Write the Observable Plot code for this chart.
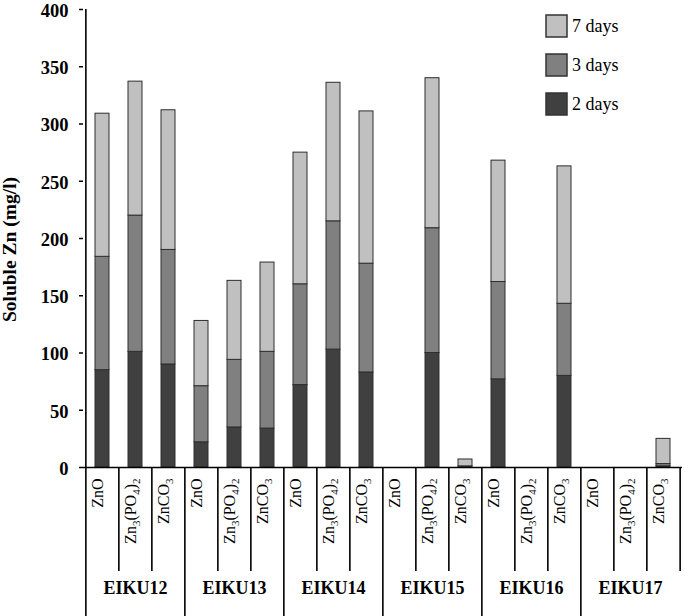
<!DOCTYPE html>
<html><head><meta charset="utf-8">
<script src="https://cdn.jsdelivr.net/npm/d3@7"></script>
<script src="https://cdn.jsdelivr.net/npm/@observablehq/plot@0.6"></script>
<style>
body{margin:0;background:#fff;}
#chart{position:relative;width:685px;height:616px;font-family:"Liberation Serif","Times New Roman",serif;}
#chart svg, #chart svg text{font-family:"Liberation Serif","Times New Roman",serif !important;}
#legend{position:absolute;left:546px;top:15px;}
#legend .lg-swatches{font-family:"Liberation Serif","Times New Roman",serif;font-size:18px;color:#000;margin:0;}
#legend .lg-swatch{display:flex;align-items:center;padding-bottom:17px;}
#legend .lg-swatch > svg{margin-right:5px;overflow:visible;}
#legend .lg-swatch > svg rect{stroke:#333;stroke-width:1.5px;}
#legend .lg-swatch-label{line-height:22px;}
</style></head><body><div id="chart"><div id="legend"></div></div>
<script>
// ---- data ----
const groups = ["EIKU12", "EIKU13", "EIKU14", "EIKU15", "EIKU16", "EIKU17"];
const compounds = ["ZnO", "Zn3(PO4)2", "ZnCO3"];
const periods = ["2 days", "3 days", "7 days"];
const legendOrder = ["7 days", "3 days", "2 days"];
// stacked segment heights (mg/l), group-major order: each group -> ZnO, Zn3(PO4)2, ZnCO3
const day2 = [85, 101, 90,   22, 35, 34,   72, 103, 83,   0, 100, 0,   77, 0, 80,   0, 0, 1];
const day3 = [99, 119, 100,  49, 59, 67,   88, 112, 95,   0, 109, 1,   85, 0, 63,   0, 0, 2];
const day7 = [125, 117, 122, 57, 69, 78,   115, 121, 133, 0, 131, 6,   106, 0, 120, 0, 0, 22];
const yTicks = [0, 50, 100, 150, 200, 250, 300, 350, 400];
const colors = ["#c0c0c0", "#808080", "#404040"]; // 7, 3, 2 days

// ---- build table ----
const cats = [];
groups.forEach(g => compounds.forEach(c => cats.push({key: g + "|" + c, group: g, compound: c})));
const series = [day2, day3, day7];
const rows = [];
cats.forEach((cat, i) => {
  periods.forEach((p, j) => {
    const v = series[j][i];
    if (v > 0) rows.push({key: cat.key, period: p, value: v});
  });
});

const W = 685, H = 616, mL = 83, mR = 3, mT = 9, mB = 149;
const plotH = H - mT - mB;
const step = (W - mL - mR) / cats.length;
const keys = cats.map(d => d.key);
const innerKeys = cats.filter(d => d.compound !== compounds[0]).map(d => d.key);
const groupFirstKeys = cats.filter(d => d.compound === compounds[0]).map(d => d.key);
const font = '"Liberation Serif","Times New Roman",serif';

const svg = Plot.plot({
  width: W, height: H,
  marginLeft: mL, marginRight: mR, marginTop: mT, marginBottom: mB,
  style: {fontFamily: font, fontSize: "16px", color: "#000", background: "#fff", overflow: "visible"},
  x: {type: "band", domain: keys, paddingInner: 0.58, paddingOuter: 0.29, axis: null},
  y: {domain: [0, 400]},
  color: {domain: legendOrder, range: colors},
  marks: [
    Plot.barY(rows, {x: "key", y: "value", fill: "period", stroke: "#2e2e2e", strokeWidth: 1}),
    Plot.axisY({ticks: yTicks, tickSize: 4, tickFormat: () => "", stroke: "#000", strokeWidth: 1.5, label: null}),
    Plot.axisY({ticks: yTicks, tickSize: 0, tickPadding: 15, dy: 1.5, fontSize: 18.5, fontWeight: "bold", fontFamily: font, label: null}),
    Plot.ruleY([0], {stroke: "#000", strokeWidth: 1.6}),
    Plot.ruleX([keys[0]], {dx: -step / 2, stroke: "#000", strokeWidth: 1.6}),
    Plot.ruleX(innerKeys, {dx: -step / 2, insetTop: plotH, insetBottom: -104, stroke: "#000", strokeWidth: 1.6}),
    Plot.ruleX(groupFirstKeys, {dx: -step / 2, insetTop: plotH, insetBottom: -mB, stroke: "#000", strokeWidth: 1.6}),
    Plot.ruleX([keys[keys.length - 1]], {dx: step / 2, insetTop: plotH, insetBottom: -104, stroke: "#000", strokeWidth: 1.6}),
    Plot.text(cats, {x: "key", text: "compound", frameAnchor: "bottom", dy: 11, rotate: -90, textAnchor: "end", fontSize: 16, fontFamily: font}),
    Plot.text(groups, {x: g => g + "|" + compounds[1], text: d => d, frameAnchor: "bottom", dy: 126, fontSize: 18, fontWeight: "bold", fontFamily: font}),
    Plot.text(["Soluble Zn (mg/l)"], {frameAnchor: "left", textAnchor: "middle", dx: -74, dy: 11, rotate: -90, fontSize: 19.5, fontWeight: "bold", fontFamily: font})
  ]
});

// subscripts for chemical formulas
d3.select(svg).selectAll("text")
  .filter(function () { return compounds.includes(this.textContent) && /\d/.test(this.textContent); })
  .each(function () {
    const t = this.textContent;
    const sel = d3.select(this);
    sel.text(null);
    let sub = false;
    (t.match(/\d+|\D+/g) || []).forEach(p => {
      const ts = sel.append("tspan").text(p);
      if (/\d/.test(p)) { ts.attr("font-size", 11).attr("dy", 4); sub = true; }
      else if (sub) { ts.attr("dy", -4); sub = false; }
    });
  });

const chart = document.getElementById("chart");
chart.insertBefore(svg, chart.firstChild);

const legend = Plot.legend({
  color: {domain: legendOrder, range: colors},
  legend: "swatches", columns: 1, swatchWidth: 21, swatchHeight: 22, className: "lg"
});
document.getElementById("legend").appendChild(legend);
</script>
</body></html>
